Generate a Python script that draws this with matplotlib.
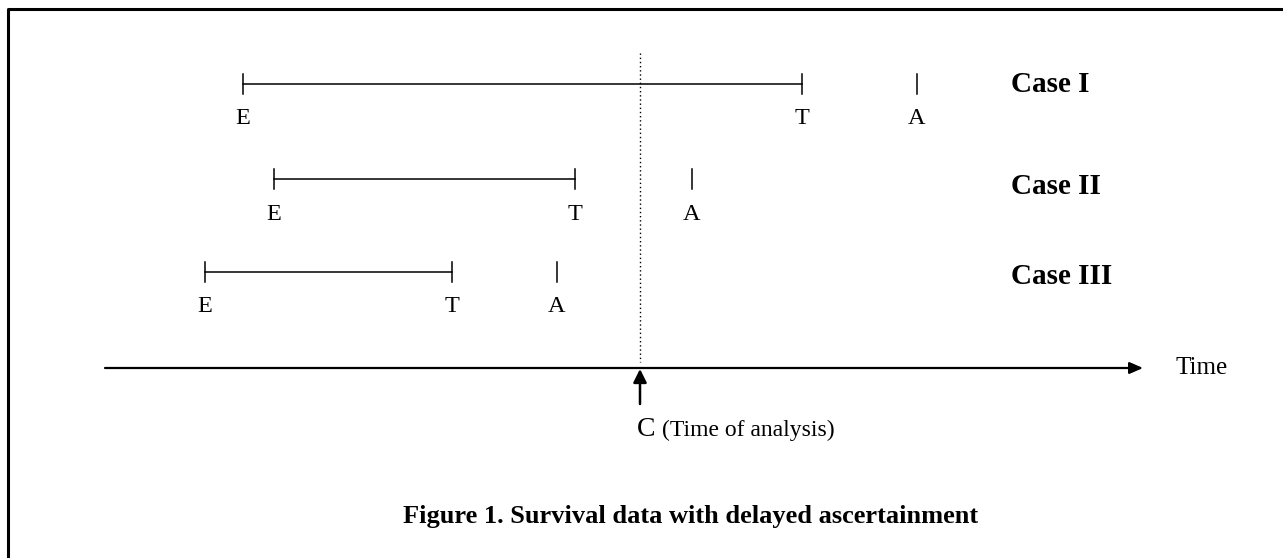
import numpy as np
import matplotlib.pyplot as plt

# event times for each case (x position along the time axis, in pixels)
cases = ["Case I", "Case II", "Case III"]
entry = [243, 274, 205]        # E
terminal = [802, 575, 452]     # T
ascertain = [917, 692, 557]    # A
analysis_time = 640            # C

# layout
row_y = [84, 179, 272]
case_label_y = [84, 187, 277]
axis_y = 368
serif = "Liberation Serif"

fig = plt.figure(figsize=(12.83, 5.58), dpi=100)
ax = fig.add_axes([0, 0, 1, 1])
ax.set_xlim(0, 1283)
ax.set_ylim(558, 0)
ax.axis("off")

# frame (only top and left visible)
ax.plot([8, 8, 1283], [558, 9, 9], color="black", lw=2.2, solid_capstyle="butt")

for i in range(len(cases)):
    y = row_y[i]
    ax.plot([entry[i], terminal[i]], [y, y], color="black", lw=1.1)
    for xv in (entry[i], terminal[i], ascertain[i]):
        ax.plot([xv, xv], [y - 10, y + 10], color="black", lw=1.1)
    for xv, lab in zip((entry[i], terminal[i], ascertain[i]), "ETA"):
        ax.text(xv, y + 35, lab, ha="center", va="center", fontsize=17.5,
                family=serif)
    ax.text(1011, case_label_y[i], cases[i], ha="left", va="center",
            fontsize=21, fontweight="bold", family=serif)

# time of analysis
ax.plot([analysis_time, analysis_time], [53, 362], color="black", lw=1.0,
        linestyle=(0, (1, 2)))

# time axis
ax.annotate("", xy=(1143, axis_y), xytext=(105, axis_y),
            arrowprops=dict(arrowstyle="-|>,head_length=0.8,head_width=0.35",
                            color="black", lw=1.6, shrinkA=0, shrinkB=0))
ax.text(1175, axis_y, "Time", ha="left", va="center", fontsize=18, family=serif)

# arrow pointing at C
ax.annotate("", xy=(analysis_time, axis_y + 1), xytext=(analysis_time, 404),
            arrowprops=dict(arrowstyle="-|>,head_length=0.8,head_width=0.4",
                            color="black", lw=1.8, shrinkA=0, shrinkB=0))
ax.text(637, 429, "C", ha="left", va="center", fontsize=20, family=serif)
ax.text(662, 430, "(Time of analysis)", ha="left", va="center", fontsize=17,
        family=serif)

ax.text(403, 516, "Figure 1. Survival data with delayed ascertainment",
        ha="left", va="center", fontsize=19, fontweight="bold", family=serif)

plt.savefig("out.png", dpi=100)
plt.close()
